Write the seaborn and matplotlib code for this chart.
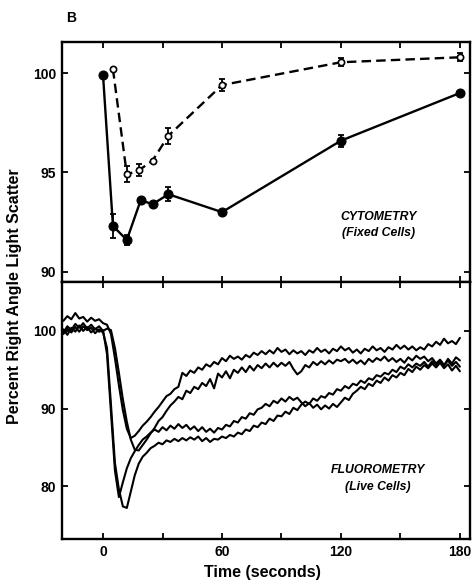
import numpy as np
import pandas as pd
import matplotlib
matplotlib.use("Agg")
import matplotlib.pyplot as plt
import seaborn as sns

# ---------------- data ----------------
# Top panel (cytometry, fixed cells)
fixed_t = [0, 5, 12, 19, 25, 33, 60, 120, 180]
fixed_y = [99.9, 92.3, 91.6, 93.6, 93.4, 93.9, 93.0, 96.6, 99.0]
fixed_err = [0.0, 0.6, 0.25, 0.0, 0.0, 0.35, 0.0, 0.3, 0.0]
open_t = [5, 12, 18, 25, 33, 60, 120, 180]
open_y = [100.2, 94.9, 95.1, 95.6, 96.85, 99.4, 100.55, 100.8]
open_err = [0.0, 0.4, 0.3, 0.0, 0.4, 0.3, 0.2, 0.2]

# Bottom panel (fluorometry, live cells); sampled every 2 s from -20 to 180 s
trace_t = list(range(-20, 181, 2))
trace_a = [99.6, 100.3, 99.8, 100.5, 99.9, 100.6, 100.1, 100.4, 99.7, 100.2,
           99.8, 97.8, 90.5, 83.0, 79.6, 77.4, 77.2, 79.3, 81.4, 82.9,
           83.8, 84.3, 84.9, 85.2, 85.6, 85.4, 85.9, 85.7, 86.1, 85.8,
           86.2, 85.9, 86.3, 86.0, 86.4, 85.8, 86.2, 85.7, 86.1, 86.0,
           86.4, 86.2, 86.6, 86.4, 86.9, 86.7, 87.3, 87.1, 87.8, 87.6,
           88.2, 88.0, 88.7, 88.4, 89.1, 89.0, 89.6, 89.3, 90.1, 89.8,
           90.5, 90.9, 90.6, 91.3, 91.0, 91.6, 91.4, 92.0, 91.8, 92.5,
           92.3, 92.9, 92.6, 93.2, 93.0, 93.6, 93.3, 93.9, 93.7, 94.3,
           94.1, 94.6, 94.4, 95.0, 94.7, 95.4, 95.1, 95.7, 95.3, 95.8,
           95.5, 96.0, 95.4, 96.1, 95.6, 96.2, 95.5, 96.4, 95.8, 96.6,
           96.2]
trace_b = [100.2, 99.5, 100.4, 99.9, 100.7, 100.0, 100.5, 99.8, 100.3, 99.9,
           100.1, 97.0, 89.5, 82.0, 78.6, 80.5, 82.3, 83.6, 84.5, 85.3,
           86.0, 86.4, 86.9, 87.3, 87.0, 87.6, 87.2, 87.8, 87.4, 88.0,
           87.5, 87.9, 87.3, 87.7, 87.1, 87.6, 87.0, 87.4, 86.9, 87.5,
           87.3, 87.9, 87.7, 88.4, 88.2, 88.9, 88.7, 89.4, 89.2, 89.9,
           90.1, 90.6, 90.3, 91.0, 90.7, 91.3, 90.9, 91.5, 91.1, 91.4,
           90.8, 90.3, 90.7, 90.1, 90.5, 89.9, 90.4, 90.0, 90.6, 90.2,
           90.8, 91.4, 91.1, 91.9, 92.3, 92.8, 92.5, 93.2, 92.9, 93.6,
           93.3, 94.0, 93.6, 94.3, 94.0, 94.6, 94.3, 95.1, 94.7, 95.4,
           95.0, 95.6, 95.2, 95.8, 95.3, 95.9, 95.2, 95.7, 94.9, 95.5,
           94.8]
trace_c = [101.3, 101.9, 101.5, 102.3, 101.6, 101.8, 101.2, 101.7, 101.3, 101.5,
           101.0, 100.8, 99.6, 96.5, 93.0, 89.8, 87.4, 86.2, 86.5, 87.1,
           87.8, 88.3, 88.9, 89.6, 90.2, 90.9, 91.6, 91.9, 92.5, 92.8,
           94.6, 94.2, 94.9, 94.6, 95.3, 95.0, 95.7, 95.4, 96.0, 95.7,
           96.5, 96.1, 96.8, 96.4, 96.7, 96.3, 96.9, 96.6, 97.2, 96.9,
           97.4, 97.0, 97.5, 97.1, 97.8, 97.3, 97.6, 97.0, 97.5, 97.1,
           97.4, 96.9, 97.5, 97.2, 97.8, 97.3, 97.6, 97.1, 97.7, 97.4,
           98.0, 97.5, 97.8, 97.2, 97.6, 97.1, 97.7, 97.4, 98.0, 97.5,
           97.8, 97.3, 97.9, 97.6, 98.2, 97.7, 98.1, 97.6, 98.0, 97.5,
           97.9, 97.6, 98.3, 98.0, 98.6, 98.2, 99.0, 98.4, 98.7, 98.3,
           99.1]
trace_d = [99.8, 100.6, 100.1, 100.9, 100.4, 101.0, 100.3, 100.8, 100.2, 100.6,
           100.0, 100.3, 100.1, 97.8, 94.6, 91.2, 88.3, 86.0, 84.7, 84.6,
           85.3, 86.0, 86.8, 87.5, 88.4, 88.9, 89.7, 90.4, 90.9, 91.5,
           91.2, 92.3, 92.0, 92.8, 92.5, 93.3, 92.9, 93.8, 92.6, 94.5,
           94.0, 94.8, 93.9, 95.0, 94.6, 95.3, 94.7, 95.5, 94.9, 95.6,
           95.2, 95.8, 95.3, 95.9, 95.4, 95.9, 95.5, 96.0, 95.1, 94.4,
           94.8, 95.6, 95.3, 96.0, 95.6, 96.1, 95.7, 96.2, 95.8, 96.3,
           96.1, 96.4, 95.9, 96.3, 95.8, 96.2, 95.7, 96.4, 96.0, 96.5,
           96.2, 96.7, 96.1, 96.5, 96.0, 96.4, 95.9, 96.6, 96.2, 96.8,
           96.4, 96.7, 96.1, 96.5, 95.8, 96.3, 95.6, 96.2, 95.5, 96.0,
           95.4]

x_ticks = [0, 30, 60, 90, 120, 150, 180]
x_labels = ["0", "", "60", "", "120", "", "180"]
top_yticks = [90, 95, 100]
bot_yticks = [80, 90, 100]

# ---------------- style ----------------
sns.set_style("ticks")
plt.rcParams["font.family"] = ["Liberation Sans", "DejaVu Sans"]
plt.rcParams["font.weight"] = "bold"
for k in ("text.color", "axes.labelcolor", "xtick.color", "ytick.color",
          "axes.edgecolor"):
    plt.rcParams[k] = "black"

W, H = 472, 584
fig = plt.figure(figsize=(W / 100, H / 100), dpi=100)
L, R = 62 / W, 470 / W
ax1 = fig.add_axes([L, 1 - 282 / H, R - L, 240 / H])
ax2 = fig.add_axes([L, 1 - 539 / H, R - L, 257 / H])

# top panel
fixed_df = pd.DataFrame({"t": fixed_t, "y": fixed_y})
open_df = pd.DataFrame({"t": open_t, "y": open_y})
ax1.errorbar(open_t, open_y, yerr=open_err, fmt="none", ecolor="black",
             elinewidth=1.3, capsize=2.5, capthick=1.3, zorder=2)
ax1.errorbar(fixed_t, fixed_y, yerr=fixed_err, fmt="none", ecolor="black",
             elinewidth=1.3, capsize=2.5, capthick=1.3, zorder=2)
sns.lineplot(data=open_df, x="t", y="y", ax=ax1, color="black", linewidth=1.7,
             linestyle=(0, (4, 2.2)), marker="o", markersize=4.5,
             markerfacecolor="white", markeredgecolor="black",
             markeredgewidth=1.2, errorbar=None, sort=False, zorder=3)
sns.lineplot(data=fixed_df, x="t", y="y", ax=ax1, color="black", linewidth=1.7,
             marker="o", markersize=6.5, markerfacecolor="black",
             markeredgecolor="black", errorbar=None, sort=False, zorder=3)

# bottom panel
for tr in (trace_a, trace_b, trace_c, trace_d):
    df = pd.DataFrame({"t": trace_t, "y": tr})
    sns.lineplot(data=df, x="t", y="y", ax=ax2, color="black", linewidth=1.5,
                 errorbar=None, sort=False)

for ax in (ax1, ax2):
    ax.set_xlim(-20.7, 185.1)
    ax.set_xticks(x_ticks)
    ax.set_xlabel("")
    ax.set_ylabel("")
    for s in ax.spines.values():
        s.set_linewidth(1.7)
        s.set_color("black")
        s.set_visible(True)
    ax.tick_params(direction="in", top=True, right=True, length=4, width=1.3,
                   labelsize=10, pad=4, colors="black")

ax1.set_ylim(89.48, 101.57)
ax1.set_yticks(top_yticks)
ax1.set_xticklabels([])
ax2.set_ylim(73.2, 106.3)
ax2.set_yticks(bot_yticks)
ax2.set_xticklabels(x_labels)
for lab in ax1.get_yticklabels() + ax2.get_yticklabels() + ax2.get_xticklabels():
    lab.set_fontweight("bold")

ax1.text(0.775, 0.271, "CYTOMETRY", transform=ax1.transAxes, ha="center",
         va="center", fontsize=8.8, fontstyle="italic", fontweight="bold")
ax1.text(0.775, 0.204, "(Fixed Cells)", transform=ax1.transAxes, ha="center",
         va="center", fontsize=8.8, fontstyle="italic", fontweight="bold")
ax2.text(0.775, 0.268, "FLUOROMETRY", transform=ax2.transAxes, ha="center",
         va="center", fontsize=8.8, fontstyle="italic", fontweight="bold")
ax2.text(0.775, 0.202, "(Live Cells)", transform=ax2.transAxes, ha="center",
         va="center", fontsize=8.8, fontstyle="italic", fontweight="bold")

fig.text(71 / W, 1 - 18 / H, "B", ha="center", va="center", fontsize=10,
         fontweight="bold")
fig.text(15 / W, 1 - 296 / H, "Percent Right Angle Light Scatter",
         rotation=90, ha="center", va="center", fontsize=11.5, fontweight="bold")
fig.text(262 / W, 1 - 573 / H, "Time (seconds)", ha="center", va="center",
         fontsize=11.5, fontweight="bold")

fig.savefig("out.png", dpi=100)
